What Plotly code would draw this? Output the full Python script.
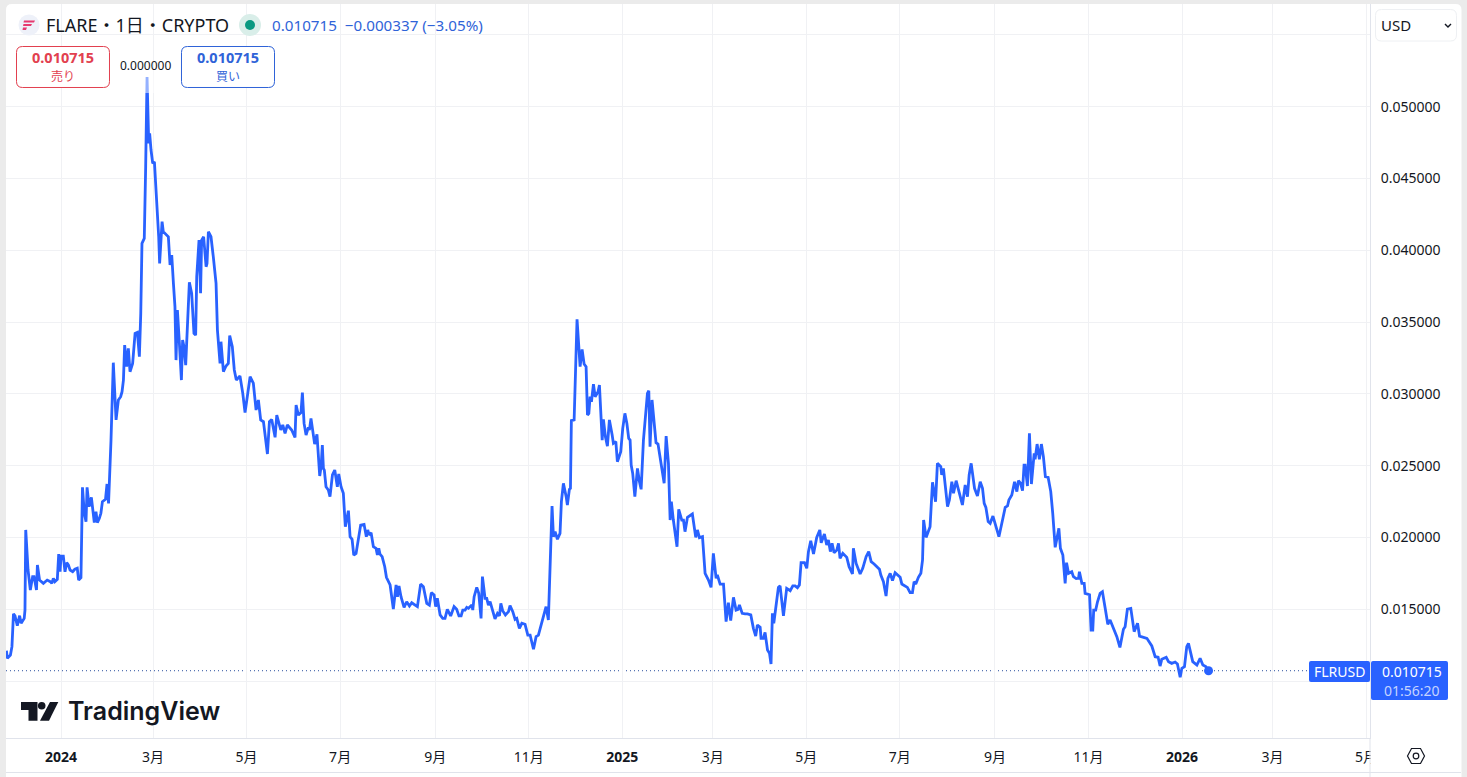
import plotly.graph_objects as go
import pandas as pd

W = 1467
H = 777
FONT = "Noto Sans, Noto Sans CJK JP, sans-serif"
BLUE = "#2962ff"
RED = "#e2404f"
GRID = "#f0f1f4"
EDGE = "#e0e3eb"

# days since 2024-01-01
day_offset = [
    -35.6, -35, -33, -32, -31, -30, -28.5, -27, -26, -24,
    -23.5, -23, -21.5, -20, -18.5, -17.6, -16, -15.4, -14, -11.5,
    -9, -7, -6, -5, -4, -2.4, -1.5, -0.6, 0, 1.5,
    2.6, 3.7, 4.8, 5.9, 7.6, 9, 10.6, 11.5, 13, 14,
    15.2, 16.3, 17, 18.3, 19.8, 21, 21.7, 22.8, 23.7, 25,
    26, 27, 29, 30, 31, 32.6, 34.1, 35.9, 37.4, 38.9,
    39.8, 40.7, 41.5, 42.8, 43.9, 45, 46.7, 48.3, 49.8, 51.1,
    52, 52.8, 54.3, 55.2, 56.1, 57.2, 57.8, 58.7, 59.8, 60.9,
    62, 62.8, 63.7, 64.3, 65, 65.9, 66.7, 68.3, 70, 71.1,
    72.2, 73.3, 74.3, 75, 75.9, 77.2, 78.5, 79.3, 80.2, 81.3,
    82.6, 83.7, 85.2, 86.7, 87.8, 88.5, 90, 91, 91.7, 93,
    94.6, 95.2, 96.1, 97.8, 99.3, 101.1, 102, 103.7, 104.3, 105.9,
    107.6, 109.1, 110, 111.7, 113, 114.3, 116.7, 118.5, 120, 123.3,
    125.4, 127.2, 128.7, 130.2, 132, 134.6, 135.9, 137.4, 139.6, 140.7,
    143.3, 144.6, 146.1, 147.6, 150.4, 152.6, 153.3, 154.8, 156.5, 157.4,
    158.5, 159.8, 161.3, 162, 163, 164.1, 165.4, 166.9, 168.7, 169.6,
    170.4, 171.1, 171.7, 172.8, 174.3, 175.4, 177, 178.5, 180.2, 181.1,
    182.6, 184.1, 185.4, 187.4, 188.5, 189.8, 190.9, 192.4, 193.9, 195.4,
    197.6, 199.1, 200, 200.9, 202.2, 203.7, 205.4, 206.3, 207.2, 208,
    209.4, 211.1, 212.2, 214.6, 216.7, 218.5, 219.4, 220.4, 221.7, 223.7,
    225.4, 227.2, 228.7, 230.2, 232.4, 234.5, 236.3, 238.5, 240.2, 241.5,
    243.3, 244.3, 245.4, 247.2, 248.9, 250.4, 251.9, 254.1, 256.3, 258,
    259.5, 260.9, 262, 263.5, 264.6, 265.7, 267.9, 268.5, 269.4, 271.1,
    272.4, 273.9, 274.8, 276.5, 277.6, 278.7, 279.8, 283, 284.6, 285.9,
    286.8, 288, 289.8, 291.8, 292.8, 294.6, 296.1, 297.2, 298.9, 300.5,
    302.6, 304.4, 305.9, 308.1, 309.8, 311.3, 314.6, 316.3, 317.8, 320.2,
    321.1, 322.2, 323.7, 325.4, 326.3, 327.6, 329.4, 330.2, 331.5, 332.2,
    332.8, 334.6, 336.5, 338.5, 339.8, 341.1, 342.4, 343.3, 344.2, 345,
    345.9, 347.2, 348.3, 350.2, 351.1, 352.9, 353.7, 355, 356.3, 357.6,
    359.4, 360.2, 361.8, 362.8, 365, 366.3, 367.7, 369, 370.2, 371.1,
    371.8, 372.8, 374.2, 375.9, 377.2, 378.3, 379.8, 382.4, 383.3, 384.1,
    385.4, 386.7, 388, 389.3, 391.1, 393.3, 394.6, 396.1, 397.2, 398,
    399.3, 400.7, 401.7, 402.8, 404.8, 405.9, 406.9, 408.5, 411.7, 413.9,
    415, 416.3, 418.3, 420, 422.2, 423.9, 425.4, 427.2, 428, 429.8,
    432, 433.7, 435.2, 436.7, 438.5, 440.2, 441.5, 442.4, 444.2, 446.1,
    447.6, 449.8, 451.5, 453, 454.1, 455.9, 456.5, 458, 459.1, 460.7,
    462, 463, 463.9, 464.8, 466.7, 467.8, 468.9, 471.1, 473.2, 475.5,
    477.2, 478.7, 480.2, 481.5, 482.6, 484.8, 486.3, 487.4, 488.9, 490.7,
    492.8, 494.8, 495.7, 497.8, 499.3, 500.4, 501.7, 502.8, 504.1, 505.9,
    507, 508, 509.8, 512.4, 513.9, 516.1, 516.7, 518.5, 521.1, 522.8,
    525, 526.7, 528.3, 530.2, 533.7, 534.6, 536.3, 538, 539.2, 540.7,
    542.2, 543.9, 547.2, 548.3, 549.3, 551.9, 553.7, 555.2, 556.3, 557.4,
    559.1, 560.7, 561.8, 562.5, 564.1, 566.7, 568.3, 570.3, 571.5, 573.7,
    574.3, 575.4, 578.1, 579.3, 580.9, 582, 583.7, 585.9, 587.8, 589.6,
    591.1, 592.2, 593.5, 595.7, 597.6, 599.4, 600.9, 602, 603.1, 604.6,
    605.9, 607.7, 609.6, 611.6, 614.2, 615.7, 617.2, 618.1, 620, 621.8,
    623.3, 624.3, 625.7, 627, 628, 628.7, 630.2, 631.5, 632.8, 634.6,
    635.2, 636.5, 638, 639.3, 640.6, 641.9, 643.7, 645.4, 646.7, 648.3,
    650.7, 651.7, 653.3, 654.8, 655.7, 657, 659.1, 660.2, 662, 663.5,
    664.1, 665.7, 667.2, 667.8, 670.7, 671.7, 672.8, 673.4, 674.7, 675.9,
    677.6, 679.1, 680.9, 682.6, 684.1, 686.8, 688.5, 690.5, 692.8, 693.9,
    695.4, 697.6, 699.8, 702, 703.3, 708.1, 711.3, 713.5, 715.4, 716.7,
    717.8, 720.7, 722.2, 724.3, 726.5, 728, 729.8, 730.9, 732.6, 734.1,
    735.2, 738, 740.7, 742.8, 744.6, 746.5, 748.3,
]

price = [
    .01211, .01158, .01181, .01239, .01467, .01453, .01385, .01455, .01402, .01436,
    .01494, .02052, .01773, .01634, .01727, .01727, .01634, .01808, .01703, .01680,
    .01703, .01692, .01680, .01715, .01692, .01708, .01884, .01761, .01870, .01870,
    .01761, .01824, .01808, .01773, .01761, .01778, .01785, .01703, .01720, .02349,
    .02168, .02110, .02349, .02214, .02279, .02168, .02103, .02179, .02103, .02133,
    .02168, .02249, .02265, .02372, .02237, .02678, .03217, .02818, .02957, .02980,
    .03015, .03096, .03340, .03189, .03317, .03154, .03212, .03421, .03428, .03259,
    .03560, .04048, .04083, .04582, .05206, .04744, .04814, .04698, .04605, .04616,
    .04419, .04280, .04094, .03908, .04071, .04199, .04129, .04113, .04094, .03897,
    .03967, .03769, .03607, .03235, .03584, .03351, .03096, .03375, .03328, .03200,
    .03514, .03776, .03700, .03421, .03409, .03816, .04071, .03700, .04071, .04094,
    .03885, .03908, .04129, .04094, .03955, .03769, .03444, .03212, .03363, .03154,
    .03194, .03212, .03405, .03328, .03166, .03096, .03124, .03005, .02869, .03119,
    .03075, .02887, .02957, .02818, .02806, .02581, .02806, .02822, .02697, .02852,
    .02748, .02783, .02725, .02783, .02748, .02697, .02922, .02852, .02869, .03008,
    .02794, .02713, .02767, .02748, .02829, .02748, .02650, .02718, .02428, .02493,
    .02643, .02481, .02469, .02353, .02330, .02284, .02435, .02469, .02353, .02442,
    .02353, .02307, .02075, .02186, .02005, .01987, .01877, .01889, .01982, .02086,
    .02091, .02005, .02052, .02017, .02033, .01935, .01924, .01877, .01924, .01884,
    .01866, .01796, .01722, .01669, .01501, .01669, .01587, .01662, .01587, .01513,
    .01552, .01522, .01545, .01536, .01518, .01675, .01657, .01541, .01529, .01615,
    .01599, .01518, .01576, .01460, .01436, .01436, .01499, .01453, .01518, .01499,
    .01453, .01453, .01494, .01494, .01513, .01506, .01529, .01494, .01587, .01652,
    .01610, .01436, .01727, .01576, .01576, .01529, .01552, .01432, .01471, .01453,
    .01541, .01490, .01460, .01483, .01525, .01483, .01429, .01436, .01367, .01402,
    .01395, .01320, .01320, .01221, .01309, .01320, .01460, .01518, .01425, .02219,
    .02005, .02040, .01987, .02028, .02249, .02377, .02284, .02226, .02335, .02342,
    .02813, .02818, .03519, .03189, .03310, .03208, .03189, .02852, .02864, .02980,
    .02945, .03068, .02980, .03015, .03061, .02678, .02822, .02701, .02636, .02818,
    .02713, .02655, .02667, .02527, .02597, .02760, .02864, .02794, .02690, .02678,
    .02504, .02446, .02284, .02481, .02388, .02335, .02678, .03003, .03022, .02632,
    .02957, .02818, .02660, .02650, .02516, .02377, .02706, .02516, .02121, .02249,
    .02121, .02028, .01935, .02195, .02121, .02121, .02040, .02140, .02163, .02000,
    .02052, .01998, .02005, .01750, .01703, .01652, .01889, .01715, .01738, .01675,
    .01675, .01413, .01546, .01420, .01583, .01494, .01499, .01529, .01471, .01467,
    .01467, .01460, .01367, .01313, .01390, .01374, .01297, .01297, .01339, .01216,
    .01193, .01118, .01471, .01402, .01541, .01652, .01662, .01453, .01645, .01629,
    .01662, .01662, .01650, .01669, .01824, .01824, .01785, .01901, .01977, .01884,
    .02000, .02052, .01963, .02024, .01947, .01982, .01901, .01959, .01894, .01912,
    .01959, .01854, .01889, .01861, .01796, .01745, .01924, .01819, .01745, .01785,
    .01866, .01901, .01831, .01815, .01778, .01738, .01692, .01592, .01715, .01750,
    .01699, .01754, .01722, .01675, .01669, .01652, .01615, .01615, .01692, .01675,
    .01722, .01750, .01843, .02121, .02000, .02075, .02384, .02249, .02516, .02493,
    .02435, .02481, .02214, .02260, .02388, .02307, .02395, .02295, .02226, .02365,
    .02284, .02435, .02516, .02342, .02288, .02388, .02342, .02237, .02209, .02110,
    .02098, .02149, .02075, .02005, .02133, .02209, .02219, .02260, .02295, .02388,
    .02319, .02395, .02377, .02325, .02504, .02504, .02358, .02725, .02372, .02585,
    .02544, .02650, .02544, .02650, .02562, .02423, .02418, .02319, .02168, .01931,
    .02063, .01924, .01877, .01680, .01824, .01750, .01761, .01727, .01713, .01715,
    .01761, .01680, .01680, .01610, .01601, .01355, .01355, .01494, .01494, .01552,
    .01610, .01622, .01506, .01395, .01425, .01360, .01309, .01234, .01360, .01378,
    .01501, .01506, .01344, .01402, .01313, .01297, .01244, .01169, .01165, .01104,
    .01151, .01165, .01135, .01123, .01132, .01118, .01026, .01088, .01100, .01239,
    .01262, .01135, .01111, .01158, .01111, .01100, .010715,
]

tick_dates = ["2024-01-01", "2024-03-01", "2024-05-01", "2024-07-01", "2024-09-01", "2024-11-01",
              "2025-01-01", "2025-03-01", "2025-05-01", "2025-07-01", "2025-09-01", "2025-11-01",
              "2026-01-01", "2026-03-01", "2026-05-01"]
tick_names = ["<b>2024</b>", "3月", "5月", "7月", "9月", "11月",
              "<b>2025</b>", "3月", "5月", "7月", "9月", "11月",
              "<b>2026</b>", "3月", "5月"]
price_ticks = [0.010, 0.015, 0.020, 0.025, 0.030, 0.035, 0.040, 0.045, 0.050, 0.055]
price_names = ["", "0.015000", "0.020000", "0.025000", "0.030000", "0.035000",
               "0.040000", "0.045000", "0.050000", ""]
last_price = 0.010715

dates = pd.Timestamp("2024-01-01") + pd.to_timedelta(day_offset, unit="D")


def px(x):
    return x / W


def py(y):
    return 1 - y / H


def path(points, close=True):
    out = ""
    for i, (x, y) in enumerate(points):
        out += ("M" if i == 0 else "L") + f"{px(x):.5f},{py(y):.5f} "
    return out + ("Z" if close else "")


def rounded(x0, y0, x1, y1, r):
    a, b, c, d = px(x0), py(y0), px(x1), py(y1)
    rx, ry = r / W, r / H
    return (f"M{a + rx:.5f},{b:.5f} L{c - rx:.5f},{b:.5f} Q{c:.5f},{b:.5f} {c:.5f},{b - ry:.5f} "
            f"L{c:.5f},{d + ry:.5f} Q{c:.5f},{d:.5f} {c - rx:.5f},{d:.5f} "
            f"L{a + rx:.5f},{d:.5f} Q{a:.5f},{d:.5f} {a:.5f},{d + ry:.5f} "
            f"L{a:.5f},{b - ry:.5f} Q{a:.5f},{b:.5f} {a + rx:.5f},{b:.5f} Z")


def box(x0, y0, x1, y1, fill, line=None, r=0, layer="above", width=1, opacity=1):
    return dict(type="path", path=rounded(x0, y0, x1, y1, r), xref="paper", yref="paper",
                fillcolor=fill, line=dict(color=line or "rgba(0,0,0,0)", width=width if line else 0),
                layer=layer, opacity=opacity)


def poly(points, fill=None, line=None, width=1, close=True):
    return dict(type="path", path=path(points, close), xref="paper", yref="paper",
                fillcolor=fill or "rgba(0,0,0,0)",
                line=dict(color=line or "rgba(0,0,0,0)", width=width if line else 0), layer="above")


def dot(cx, cy, r, fill, line=None, width=1):
    return dict(type="circle", xref="paper", yref="paper", x0=px(cx - r), x1=px(cx + r),
                y0=py(cy + r), y1=py(cy - r), fillcolor=fill,
                line=dict(color=line or "rgba(0,0,0,0)", width=width if line else 0), layer="above")


def label(x, y, text, size, color, anchor="left", weight=400, family=FONT):
    return dict(x=px(x), y=py(y), xref="paper", yref="paper", text=text, showarrow=False,
                xanchor=anchor, yanchor="middle", borderpad=0,
                font=dict(size=size, color=color, family=family, weight=weight))


fig = go.Figure()
fig.add_trace(go.Scatter(x=dates, y=price, mode="lines", line=dict(color=BLUE, width=2.8), hoverinfo="skip"))
fig.add_trace(go.Scatter(x=dates[-1:], y=price[-1:], mode="markers", marker=dict(color=BLUE, size=9), hoverinfo="skip"))

shapes = [
    # card, panels
    box(6, 4, 1461.5, 790, "#ffffff", r=6, layer="below"),
    dict(type="line", xref="paper", yref="paper", x0=px(6), x1=px(1461), y0=py(772.5), y1=py(772.5),
         line=dict(color=EDGE, width=1), layer="below"),
    # last price line
    dict(type="line", xref="x domain", yref="y", x0=0, x1=(1309 - 6) / 1364, y0=last_price, y1=last_price,
         line=dict(color="#2a4f9e", width=1, dash="1px,3px"), layer="below"),
    # faded top of the peak behind the legend
    box(140, 70, 156, 93, "#ffffff", opacity=0.5),
    # cover for the cut 5月 label, plus right panel edge
    box(1370.5, 739, 1460, 772, "#ffffff"),
    dict(type="line", xref="paper", yref="paper", x0=px(1370), x1=px(1370), y0=py(738), y1=py(777),
         line=dict(color=EDGE, width=1), layer="above"),
    # price tags
    box(1309, 661, 1370, 682, BLUE, r=2),
    box(1371, 661, 1448, 700, BLUE, r=2),
    # header icons
    dot(29, 25, 10.5, "#eef1f9"),
    poly([(24, 20.5), (35, 20.5), (34, 22.5), (23.5, 22.5)], "#e6396f"),
    poly([(23.5, 24), (32, 24), (31, 26), (23, 26)], "#e6396f"),
    poly([(23, 27.5), (27, 27.5), (26, 30), (22.5, 30)], "#e6396f"),
    dot(250, 25, 11, "#d9eee9"),
    dot(250, 25, 5, "#089981"),
    # sell/buy boxes
    box(16.5, 46.5, 109.5, 87.5, "#ffffff", RED, r=6),
    box(181.5, 46.5, 274.5, 87.5, "#ffffff", "#2f63d8", r=6),
    # currency selector
    box(1375.5, 9.5, 1456.5, 41, "#ffffff", "#eef0f3", r=6),
    poly([(1445, 24), (1448, 27), (1451, 24)], None, "#131722", 1.4, close=False),
    # logo
    poly([(21, 702), (37.5, 702), (37.5, 720.7), (28.5, 720.7), (28.5, 710), (21, 710)], "#131722"),
    dot(41.7, 705.7, 3.8, "#131722"),
    poly([(50, 702), (58.3, 702), (49, 720.7), (40, 720.7)], "#131722"),
    # settings icon
    poly([(1407.5, 756), (1411.5, 748.5), (1420.5, 748.5), (1424.5, 756), (1420.5, 763.5), (1411.5, 763.5)],
         None, "#131722", 1.2),
    dot(1416, 756, 2.8, "#ffffff", "#131722", 1.2),
]

annotations = [
    label(45, 25, "FLARE・1日・CRYPTO", 18, "#131722"),
    label(271, 25, "0.010715  −0.000337 (−3.05%)", 15.2, "#2f63d8"),
    label(63, 57, "0.010715", 14.5, RED, "center", 700),
    label(63, 76.5, "売り", 12, RED, "center"),
    label(145, 65, "0.000000", 12, "#131722", "center"),
    label(228, 57, "0.010715", 14.5, "#2f63d8", "center", 700),
    label(228, 76.5, "買い", 12, "#2f63d8", "center"),
    label(1380, 25, "USD", 15, "#131722"),
    label(67, 711, "TradingView", 25, "#131722", weight=600, family="Inter, sans-serif"),
    label(1339, 671.5, "FLRUSD", 14, "#ffffff", "center"),
    label(1412, 671.5, "0.010715", 14, "#ffffff", "center"),
    label(1412, 690, "01:56:20", 14, "#c5d4ff", "center"),
]

fig.update_layout(
    width=W,
    height=H,
    margin=dict(l=0, r=0, t=0, b=0),
    paper_bgcolor="#ebebeb",
    plot_bgcolor="rgba(0,0,0,0)",
    showlegend=False,
    font=dict(family=FONT, size=13, color="#131722"),
    shapes=shapes,
    annotations=annotations,
    xaxis=dict(
        domain=[6 / W, 1370 / W],
        range=["2023-11-26 03:00", "2026-05-03 14:00"],
        automargin=False,
        tickmode="array",
        tickvals=tick_dates,
        ticktext=tick_names,
        tickangle=0,
        ticklabelstandoff=6,
        ticks="",
        showgrid=True,
        gridcolor=GRID,
        gridwidth=1,
        zeroline=False,
        showline=True,
        linecolor=EDGE,
        tickfont=dict(size=14, color="#131722"),
    ),
    yaxis=dict(
        domain=[1 - 738 / H, 1 - 4 / H],
        range=[0.00603, 0.05715],
        automargin=False,
        side="right",
        tickmode="array",
        tickvals=price_ticks,
        ticktext=price_names,
        ticklabelstandoff=7,
        ticks="",
        showgrid=True,
        gridcolor=GRID,
        gridwidth=1,
        zeroline=False,
        showline=True,
        linecolor=EDGE,
        tickfont=dict(size=14, color="#131722"),
    ),
)

fig.write_html("out.html", config=dict(displayModeBar=False),
               post_script="document.body.style.margin='0';document.body.style.overflow='hidden';")
